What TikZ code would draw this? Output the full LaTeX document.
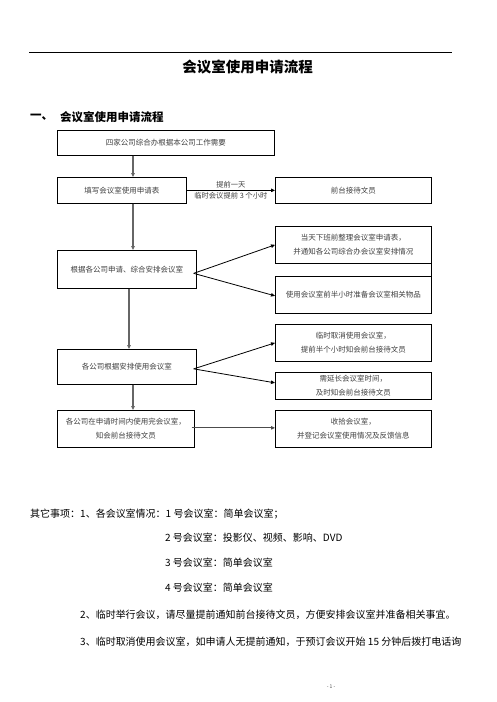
\documentclass[tikz,border=0pt]{standalone}
\usepackage{fontspec}
\setmainfont{Noto Sans CJK SC}
\usetikzlibrary{arrows.meta,positioning}

\begin{document}
\begin{tikzpicture}[x=1pt,y=-1pt,
  flowbox/.style={draw,line width=0.7pt,inner sep=0pt,align=center,anchor=north west,
    font=\fontsize{7.5}{14}\selectfont,text=black!75},
  flowarrow/.style={-{Triangle[length=4pt,width=3.5pt]},line width=1.2pt,draw=black!60,fill=black!60},
  sidearrow/.style={-{Triangle[length=4pt,width=3.5pt]},line width=0.8pt},
  armlabel/.style={font=\fontsize{7.3}{8}\selectfont,text=black!75,inner sep=1.5pt},
  note/.style={anchor=west,inner sep=0pt,font=\fontsize{10}{12}\selectfont}]
  \useasboundingbox[fill=white] (0,0) rectangle (496,702);

  % header
  \draw[line width=0.6pt] (29,52) -- (452,52);
  \node[font=\bfseries\fontsize{14.5}{16}\selectfont] (title) at (247.5,67) {会议室使用申请流程};
  \node[anchor=west,inner sep=0pt,font=\bfseries\fontsize{11.5}{13}\selectfont] (secno) at (30,117) {一、};
  \node[anchor=west,inner sep=0pt,font=\bfseries\fontsize{11.5}{13}\selectfont] (sec) at (60,117) {会议室使用申请流程};

  % flow boxes
  \node[flowbox,minimum width=217pt,minimum height=25pt] (need) at (57,130) {四家公司综合办根据本公司工作需要};
  \node[flowbox,minimum width=129pt,minimum height=26pt] (apply) at (57,177) {填写会议室使用申请表};
  \node[flowbox,minimum width=156pt,minimum height=26pt] (desk) at (275,177) {前台接待文员};
  \node[flowbox,minimum width=139pt,minimum height=38pt] (arrange) at (57,250) {根据各公司申请、综合安排会议室};
  \node[flowbox,minimum width=156pt,minimum height=37pt] (tidy) at (275,226) {当天下班前整理会议室申请表，\\并通知各公司综合办会议室安排情况};
  \node[flowbox,minimum width=156pt,minimum height=37pt] (prepare) at (275,276) {使用会议室前半小时准备会议室相关物品};
  \node[flowbox,minimum width=139pt,minimum height=35pt] (use) at (57,349) {各公司根据安排使用会议室};
  \node[flowbox,minimum width=156pt,minimum height=37pt] (cancel) at (275,324) {临时取消使用会议室，\\提前半个小时知会前台接待文员};
  \node[flowbox,minimum width=156pt,minimum height=27pt] (extend) at (275,372) {需延长会议室时间，\\及时知会前台接待文员};
  \node[flowbox,minimum width=137pt,minimum height=37pt] (finish) at (57,410) {各公司在申请时间内使用完会议室，\\知会前台接待文员};
  \node[flowbox,minimum width=156pt,minimum height=37pt] (cleanup) at (275,410) {收拾会议室，\\并登记会议室使用情况及反馈信息};

  % connectors
  \coordinate (spine) at (133,0);
  \coordinate (spinetwo) at (129,0);
  \draw[flowarrow] (need.south -| spine) -- (apply.north -| spine);
  \draw[flowarrow] (apply.south -| spine) -- (arrange.north -| spine);
  \draw[flowarrow] (arrange.south -| spinetwo) -- (use.north -| spinetwo);
  \draw[flowarrow] (use.south -| spine) -- (finish.north -| spine);
  \draw[sidearrow] (apply.east) -- node[armlabel,above] {提前一天} node[armlabel,below] {临时会议提前 3 个小时} (desk.west);
  \draw[sidearrow] ([xshift=-3pt,yshift=-4pt]arrange.east) -- (tidy.west);
  \draw[sidearrow] ([xshift=-3pt,yshift=-4pt]arrange.east) -- ([yshift=-1pt]prepare.west);
  \draw[line width=0.7pt] (tidy.south east) -- (prepare.north east);
  \draw[sidearrow] ([xshift=-3pt,yshift=-2pt]use.east) -- (cancel.west);
  \draw[sidearrow] ([xshift=-3pt,yshift=-2pt]use.east) -- ([yshift=3pt]extend.west);
  \draw[sidearrow,draw=black!70] ([xshift=-3pt,yshift=1pt]finish.east) -- ([yshift=1pt]cleanup.west);

  % notes
  \node[note] (noteone) at (30,514) {其它事项：1、各会议室情况：1 号会议室：简单会议室；};
  \node[note] (roomtwo) at (165,538) {2 号会议室：投影仪、视频、影响、DVD};
  \node[note] (roomthree) at (165,563) {3 号会议室：简单会议室};
  \node[note] (roomfour) at (165,588) {4 号会议室：简单会议室};
  \node[note] (notetwo) at (80,615) {2、临时举行会议，请尽量提前通知前台接待文员，方便安排会议室并准备相关事宜。};
  \node[note] (notethree) at (80,642) {3、临时取消使用会议室，如申请人无提前通知，于预订会议开始 15 分钟后拨打电话询};
  \node[font=\fontsize{5}{6}\selectfont,text=black!70] (page) at (331,687) {- 1 -};
\end{tikzpicture}
\end{document}
